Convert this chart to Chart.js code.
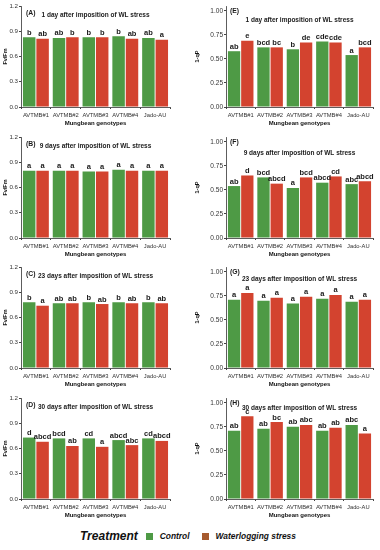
<!DOCTYPE html>
<html>
<head>
<meta charset="utf-8">
<script src="https://cdn.jsdelivr.net/npm/chart.js@4.4.0/dist/chart.umd.min.js"></script>
<style>
  body { margin: 0; background: #fff; width: 380px; height: 550px; position: relative; overflow: hidden;
         font-family: "Liberation Sans", Arial, sans-serif; }
  canvas { position: absolute; }
  #legend { position: absolute; left: 80px; top: 529px; display: flex; align-items: center; color: #111;
            font-weight: bold; font-style: italic; }
  #legend .head { font-size: 12px; margin-right: 8px; }
  #legend .sw { width: 7px; height: 7px; margin-right: 7px; }
  #legend .lab { font-size: 8.4px; margin-right: 12px; }
</style>
</head>
<body>
<div id="legend">
  <span class="head">Treatment</span>
  <span class="sw" style="background:#4e9a45"></span><span class="lab">Control</span>
  <span class="sw" style="background:#a65a2e"></span><span class="lab">Waterlogging stress</span>
</div>
<script>
// genotypes and the four sampling days
const genotypes = ['AVTMB#1', 'AVTMB#2', 'AVTMB#3', 'AVTMB#4', 'Jado-AU'];
const days = ['1 day', '9 days', '23 days', '30 days'];

// Fv/Fm (left column), rows = day 1, 9, 23, 30
const fvfmControl = [
  [0.83, 0.82, 0.83, 0.84, 0.82],
  [0.80, 0.80, 0.79, 0.81, 0.80],
  [0.78, 0.77, 0.78, 0.78, 0.78],
  [0.73, 0.72, 0.72, 0.70, 0.72]
];
const fvfmStress = [
  [0.81, 0.83, 0.83, 0.81, 0.80],
  [0.80, 0.80, 0.79, 0.80, 0.80],
  [0.74, 0.77, 0.76, 0.77, 0.77],
  [0.68, 0.63, 0.62, 0.64, 0.69]
];
const fvfmLetControl = [
  ['b', 'ab', 'b', 'b', 'ab'],
  ['a', 'a', 'a', 'a', 'a'],
  ['b', 'ab', 'b', 'b', 'b'],
  ['d', 'bcd', 'cd', 'abcd', 'cd']
];
const fvfmLetStress = [
  ['ab', 'b', 'b', 'ab', 'a'],
  ['a', 'a', 'a', 'a', 'a'],
  ['a', 'ab', 'ab', 'ab', 'ab'],
  ['abcd', 'ab', 'a', 'abc', 'abcd']
];

// 1-qP (right column)
const qpControl = [
  [0.58, 0.62, 0.60, 0.68, 0.54],
  [0.54, 0.63, 0.52, 0.575, 0.56],
  [0.71, 0.70, 0.67, 0.72, 0.69],
  [0.71, 0.73, 0.75, 0.71, 0.77]
];
const qpStress = [
  [0.69, 0.62, 0.67, 0.67, 0.62],
  [0.65, 0.565, 0.63, 0.64, 0.59],
  [0.78, 0.73, 0.74, 0.76, 0.71],
  [0.86, 0.80, 0.77, 0.74, 0.68]
];
const qpLetControl = [
  ['ab', 'bcd', 'b', 'cde', 'a'],
  ['ab', 'bcd', 'a', 'abcd', 'abc'],
  ['a', 'a', 'a', 'a', 'a'],
  ['ab', 'ab', 'ab', 'ab', 'abc']
];
const qpLetStress = [
  ['e', 'bc', 'de', 'cde', 'bcd'],
  ['d', 'abcd', 'bcd', 'cd', 'abcd'],
  ['a', 'a', 'a', 'a', 'a'],
  ['c', 'bc', 'abc', 'ab', 'a']
];

const GREEN = '#4e9a45';
const RED = '#d3432f';
const FONT = '"Liberation Sans", Arial, sans-serif';
const rowTops = [0, 131, 261, 392];

// letters above bars + panel tag and title inside the plot
const annotate = {
  id: 'annotate',
  afterDatasetsDraw(chart, args, o) {
    const ctx = chart.ctx, area = chart.chartArea;
    ctx.save();
    ctx.fillStyle = '#1a1a1a';
    ctx.font = 'bold 7.5px ' + FONT;
    ctx.textAlign = 'center';
    ctx.textBaseline = 'alphabetic';
    o.letters.forEach((lets, di) => {
      chart.getDatasetMeta(di).data.forEach((bar, i) => ctx.fillText(lets[i], bar.x, bar.y - 2.5));
    });
    ctx.textBaseline = 'middle';
    ctx.font = 'bold 6.8px ' + FONT;
    ctx.textAlign = 'left';
    ctx.fillText(o.tag, area.left + o.tagDx, area.top + o.tagDy);
    ctx.font = 'bold 6.5px ' + FONT;
    ctx.textAlign = 'center';
    ctx.fillText(o.title, (area.left + area.right) / 2, area.top + o.titleDy);
    ctx.restore();
  }
};

function makePanel(left, top, p) {
  const cv = document.createElement('canvas');
  cv.width = 190; cv.height = 127;
  cv.style.left = left + 'px';
  cv.style.top = top + 'px';
  document.body.appendChild(cv);
  new Chart(cv.getContext('2d'), {
    type: 'bar',
    data: {
      labels: genotypes,
      datasets: [
        { label: 'Control', data: p.control, backgroundColor: GREEN },
        { label: 'Waterlogging stress', data: p.stress, backgroundColor: RED }
      ]
    },
    options: {
      responsive: false,
      animation: false,
      events: [],
      layout: { padding: { top: 6, right: p.padRight, left: 0, bottom: 0 } },
      datasets: { bar: { categoryPercentage: 0.9, barPercentage: 0.93 } },
      plugins: {
        legend: { display: false },
        tooltip: { enabled: false },
        annotate: { letters: p.letters, tag: p.tag, title: p.title,
                    tagDx: p.tagDx, tagDy: p.tagDy, titleDy: p.titleDy }
      },
      scales: {
        x: {
          grid: { display: true, drawOnChartArea: false, tickLength: 2, color: '#444' },
          border: { display: true, color: '#333', width: 0.8 },
          ticks: { color: '#333', padding: 3, maxRotation: 0, font: { size: 5.8, family: FONT } },
          title: { display: true, text: 'Mungbean genotypes', color: '#111', padding: 0,
                   font: { size: 6, weight: 'bold', family: FONT } },
          afterFit(s) { s.height = 20; }
        },
        y: {
          min: 0, max: p.max,
          grid: { display: true, drawOnChartArea: false, tickLength: 2, color: '#444' },
          border: { display: true, color: '#333', width: 0.8 },
          ticks: { stepSize: p.step, includeBounds: false, color: '#333', padding: 1,
                   font: { size: p.tickSize, family: FONT },
                   callback: v => v.toFixed(p.dec) },
          title: { display: true, text: p.yTitle, color: '#111', padding: { top: p.titlePad, bottom: p.titlePad },
                   font: { size: 5.5, weight: 'bold', family: FONT } },
          afterFit(s) { s.width = p.axisW; }
        }
      }
    },
    plugins: [annotate]
  });
}

const leftTags = ['(A)', '(B)', '(C)', '(D)'];
const rightTags = ['(E)', '(F)', '(G)', '(H)'];
const rightTitleDy = [14, 16, 12, 10];

days.forEach((d, r) => {
  const title = d + ' after imposition of WL stress';
  makePanel(0, rowTops[r], {
    control: fvfmControl[r], stress: fvfmStress[r],
    letters: [fvfmLetControl[r], fvfmLetStress[r]],
    tag: leftTags[r], title: title, tagDx: 5, tagDy: 7, titleDy: 9,
    max: 1.2, step: 0.3, dec: 1, yTitle: 'Fv/Fm', axisW: 21, padRight: 20,
    tickSize: 6.2, titlePad: 2
  });
  makePanel(190, rowTops[r], {
    control: qpControl[r], stress: qpStress[r],
    letters: [qpLetControl[r], qpLetStress[r]],
    tag: rightTags[r], title: title, tagDx: 4, tagDy: 5, titleDy: rightTitleDy[r],
    max: 1.05, step: 0.25, dec: 2, yTitle: '1-qP', axisW: 36, padRight: 7,
    tickSize: 6.5, titlePad: 4
  });
});
</script>
</body>
</html>
